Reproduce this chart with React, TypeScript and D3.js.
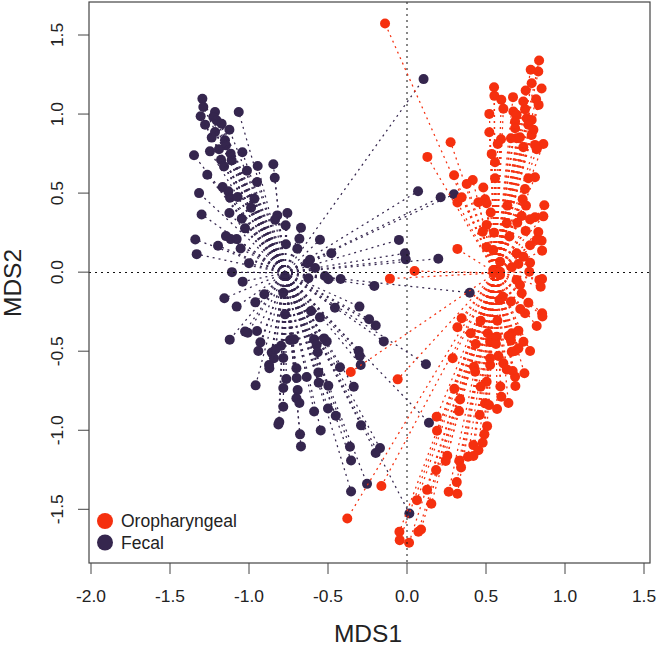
import React from "react";
import * as d3 from "d3";

const W = 657, H = 646;
const xTicks = [-2, -1.5, -1, -0.5, 0, 0.5, 1, 1.5];
const yTicks = [-1.5, -1, -0.5, 0, 0.5, 1, 1.5];
const groups = ["Oropharyngeal", "Fecal"];
const colors = ["#f5300f", "#35264e"];
const fecalCentroid: [number, number] = [-0.772, -0.005];
const oroCentroid: [number, number] = [0.56, -0.005];

const fecalPoints: [number, number][] = [
  [-1.295,1.097],[-1.289,1.045],[-1.306,0.986],[-1.278,0.933],[-1.215,1.013],[-1.226,0.981],[-1.205,0.96],[-1.173,0.939],[-1.124,0.901],[-1.065,1.013],
  [-1.215,0.886],[-1.236,0.851],[-1.152,0.834],[-1.146,0.802],[-1.19,0.777],[-1.247,0.764],[-1.348,0.739],[-1.042,0.758],[-1.116,0.749],[-1.177,0.711],
  [-1.11,0.707],[-1.158,0.669],[-1.013,0.642],[-0.945,0.671],[-0.846,0.682],[-0.837,0.597],[-1.264,0.616],[-0.949,0.57],[-1.167,0.538],[-1.131,0.511],
  [-1.12,0.471],[-1.072,0.475],[-1.316,0.5],[-0.966,0.464],[-0.987,0.407],[-1.3,0.365],[-1.124,0.374],[-1.046,0.338],[-1.025,0.277],[-0.757,0.374],
  [-0.821,0.359],[-0.835,0.332],[-0.768,0.296],[-0.671,0.281],[-0.681,0.211],[-1.146,0.228],[-1.116,0.209],[-1.078,0.209],[-1.34,0.207],[-1.196,0.167],
  [-1.053,0.15],[-0.766,0.177],[-0.694,0.148],[-0.551,0.205],[-0.479,0.12],[-1.331,0.114],[-1.0,0.057],[-0.614,0.078],[-0.631,0.057],[-0.582,0.026],
  [-1.108,0.0],[-1.04,-0.06],[-0.772,-0.024],[-0.624,-0.039],[-0.519,-0.024],[-0.498,-0.045],[-0.42,-0.043],[-0.207,-0.087],[-1.156,-0.165],[-1.078,-0.218],
  [-0.96,-0.191],[-0.903,-0.14],[-0.783,-0.13],[-0.772,-0.267],[-0.607,-0.246],[-0.551,-0.286],[-0.456,-0.225],[-0.301,-0.218],[-0.24,-0.298],[-0.198,-0.338],
  [-0.147,-0.438],[-1.025,-0.376],[-1.008,-0.383],[-0.949,-0.372],[-1.122,-0.427],[-0.928,-0.444],[-0.941,-0.499],[-0.797,-0.465],[-0.74,-0.429],[-0.715,-0.425],
  [-0.588,-0.425],[-0.572,-0.461],[-0.525,-0.419],[-0.508,-0.438],[-0.565,-0.507],[-0.306,-0.499],[-0.299,-0.53],[-0.856,-0.509],[-0.831,-0.488],[-0.842,-0.545],
  [-0.783,-0.543],[-0.873,-0.587],[-0.871,-0.608],[-0.293,-0.587],[-0.424,-0.602],[-0.7,-0.608],[-0.561,-0.634],[-0.764,-0.676],[-0.698,-0.67],[-0.635,-0.663],
  [-0.559,-0.699],[-0.498,-0.718],[-0.337,-0.725],[-0.958,-0.716],[-0.783,-0.733],[-0.692,-0.746],[-0.7,-0.798],[-0.681,-0.828],[-0.783,-0.851],[-0.588,-0.881],
  [-0.5,-0.862],[-0.451,-0.908],[-0.291,-0.969],[-0.808,-0.948],[-0.814,-0.963],[-0.677,-1.026],[-0.546,-1.001],[-0.361,-1.104],[-0.171,-1.113],[-0.198,-1.144],
  [-0.671,-1.102],[-0.354,-1.191],[-0.253,-1.339],[-0.354,-1.387],[0.105,1.221],[0.07,0.512],[0.213,0.474],[0.297,0.493],[-0.013,0.119],[-0.008,0.081],
  [0.198,0.085],[-0.051,0.204],[0.397,-0.13],[0.12,-0.583],[0.139,-0.952],[0.015,-1.526],
];

const oroPoints: [number, number][] = [
  [-0.139,1.573],[0.836,1.339],[0.783,1.28],[0.831,1.269],[0.789,1.195],[0.751,1.149],[0.852,1.162],[0.551,1.17],[0.553,1.115],[0.597,1.09],
  [0.671,1.107],[0.736,1.079],[0.817,1.094],[0.833,1.058],[0.61,1.033],[0.521,1.001],[0.747,1.031],[0.673,1.016],[0.694,0.995],[0.684,0.953],
  [0.758,0.974],[0.789,0.963],[0.768,0.932],[0.684,0.91],[0.521,0.885],[0.8,0.9],[0.789,0.868],[0.658,0.847],[0.694,0.847],[0.715,0.853],
  [0.595,0.841],[0.574,0.811],[0.863,0.811],[0.81,0.805],[0.821,0.777],[0.736,0.79],[0.536,0.748],[0.276,0.822],[0.129,0.729],[0.557,0.695],
  [0.298,0.613],[0.416,0.583],[0.378,0.558],[0.557,0.594],[0.768,0.594],[0.81,0.6],[0.483,0.535],[0.747,0.526],[0.732,0.461],[0.753,0.421],
  [0.869,0.423],[0.494,0.461],[0.452,0.442],[0.346,0.474],[0.319,0.44],[0.504,0.436],[0.635,0.421],[0.53,0.377],[0.726,0.355],[0.698,0.313],
  [0.779,0.334],[0.81,0.347],[0.863,0.353],[0.504,0.299],[0.631,0.309],[0.479,0.256],[0.551,0.25],[0.648,0.225],[0.751,0.261],[0.831,0.254],
  [0.821,0.204],[0.852,0.199],[0.779,0.17],[0.855,0.136],[0.319,0.147],[0.504,0.157],[0.546,0.14],[0.694,0.119],[0.736,0.098],[0.779,0.06],
  [0.705,0.052],[0.589,0.066],[0.546,0.014],[0.589,0.003],[0.663,0.031],[0.774,0.003],[0.048,0.007],
  [-0.108,-0.041],[0.547,-0.007],[0.589,-0.018],[0.694,-0.049],[0.715,-0.081],[0.838,-0.049],[0.855,-0.043],[0.846,-0.092],[0.726,-0.134],[0.606,-0.155],
  [0.585,-0.176],[0.658,-0.186],[0.768,-0.193],[0.717,-0.233],[0.747,-0.26],[0.346,-0.292],[0.466,-0.307],[0.572,-0.307],[0.855,-0.26],[0.857,-0.281],
  [0.821,-0.341],[0.319,-0.349],[0.403,-0.387],[0.511,-0.387],[0.705,-0.37],[0.663,-0.387],[0.642,-0.404],[0.658,-0.433],[0.551,-0.419],[0.568,-0.408],
  [0.526,-0.44],[0.563,-0.454],[0.435,-0.454],[0.737,-0.44],[0.705,-0.482],[0.684,-0.499],[0.663,-0.503],[0.779,-0.499],[0.289,-0.545],[0.578,-0.53],
  [0.526,-0.545],[0.61,-0.577],[0.526,-0.587],[0.424,-0.598],[0.431,-0.63],[0.631,-0.615],[0.669,-0.625],[0.684,-0.661],[0.743,-0.64],[0.504,-0.693],
  [0.466,-0.725],[0.591,-0.723],[0.686,-0.72],[0.3,-0.737],[0.336,-0.805],[0.597,-0.788],[0.642,-0.828],[0.494,-0.83],[0.519,-0.841],[0.57,-0.866],
  [0.329,-0.879],[0.46,-0.904],[0.188,-0.914],[0.507,-0.974],[0.19,-1.003],[0.49,-1.026],[0.479,-1.079],[0.42,-1.094],[0.452,-1.126],[0.255,-1.161],
  [0.245,-1.195],[0.42,-1.163],[0.386,-1.168],[0.331,-1.193],[0.342,-1.235],[0.184,-1.252],[0.315,-1.328],[0.127,-1.377],[0.264,-1.389],[0.319,-1.402],
  [0.063,-1.442],[0.154,-1.465],[0.089,-1.628],[0.072,-1.642],[-0.048,-1.642],[-0.046,-1.695],[0.013,-1.712],[-0.059,-0.678],[-0.356,-0.632],[-0.378,-1.558],[-0.162,-1.353],
];

const font = "'Liberation Sans', Arial, sans-serif";
const x = d3.scaleLinear().domain([-2, 1.5]).range([91, 644]);
const y = d3.scaleLinear().domain([-1.5, 1.5]).range([509.3, 35]);
const fmt = (v: number) => v.toFixed(1);
const frame = { l: 89, t: 2, r: 650, b: 563 };
const axisColor = "#444";
const textColor = "#222";

function Spider({ pts, c, color }: { pts: [number, number][]; c: [number, number]; color: string }) {
  return (
    <g stroke={color} strokeWidth={1.25} strokeDasharray="2 4" fill="none">
      {pts.map((p, i) => (
        <line key={i} x1={x(c[0])} y1={y(c[1])} x2={x(p[0])} y2={y(p[1])} />
      ))}
    </g>
  );
}

function Points({ pts, color }: { pts: [number, number][]; color: string }) {
  return (
    <g fill={color}>
      {pts.map((p, i) => (
        <circle key={i} cx={x(p[0])} cy={y(p[1])} r={5} />
      ))}
    </g>
  );
}

export default function App() {
  return (
    <svg
      width={W}
      height={H}
      viewBox={`0 0 ${W} ${H}`}
      style={{ position: "absolute", left: 0, top: 0, display: "block", background: "#fff" }}
      fontFamily={font}
    >
      <Points pts={fecalPoints} color={colors[1]} />
      <Points pts={oroPoints} color={colors[0]} />
      <line x1={frame.l} x2={frame.r} y1={272.5} y2={272.5} stroke="#111" strokeWidth={1} strokeDasharray="2 4" />
      <line x1={x(0)} x2={x(0)} y1={frame.t} y2={frame.b} stroke="#111" strokeWidth={1} strokeDasharray="2 4" />
      <Spider pts={fecalPoints} c={fecalCentroid} color={colors[1]} />
      <Spider pts={oroPoints} c={oroCentroid} color={colors[0]} />

      <rect x={frame.l} y={frame.t} width={frame.r - frame.l} height={frame.b - frame.t} fill="none" stroke={axisColor} strokeWidth={1.2} />
      {xTicks.map((t) => (
        <g key={t}>
          <line x1={x(t)} x2={x(t)} y1={frame.b} y2={frame.b + 11} stroke={axisColor} strokeWidth={1} />
          <text x={x(t)} y={601.5} textAnchor="middle" fontSize={17.4} fill={textColor}>{fmt(t)}</text>
        </g>
      ))}
      {yTicks.map((t) => (
        <g key={t}>
          <line x1={frame.l - 11} x2={frame.l} y1={y(t)} y2={y(t)} stroke={axisColor} strokeWidth={1} />
          <text transform={`translate(63,${y(t)}) rotate(-90)`} textAnchor="middle" fontSize={17.4} fill={textColor}>{fmt(t)}</text>
        </g>
      ))}
      <text x={368} y={642} textAnchor="middle" fontSize={24.5} fill={textColor}>MDS1</text>
      <text transform={`translate(21,${283}) rotate(-90)`} textAnchor="middle" fontSize={24.5} fill={textColor}>MDS2</text>

      {groups.map((g, i) => (
        <g key={g}>
          <circle cx={105} cy={521 + i * 21.5} r={8} fill={colors[i]} />
          <text x={121} y={527 + i * 21.5} fontSize={17.5} fill={textColor}>{g}</text>
        </g>
      ))}
    </svg>
  );
}
